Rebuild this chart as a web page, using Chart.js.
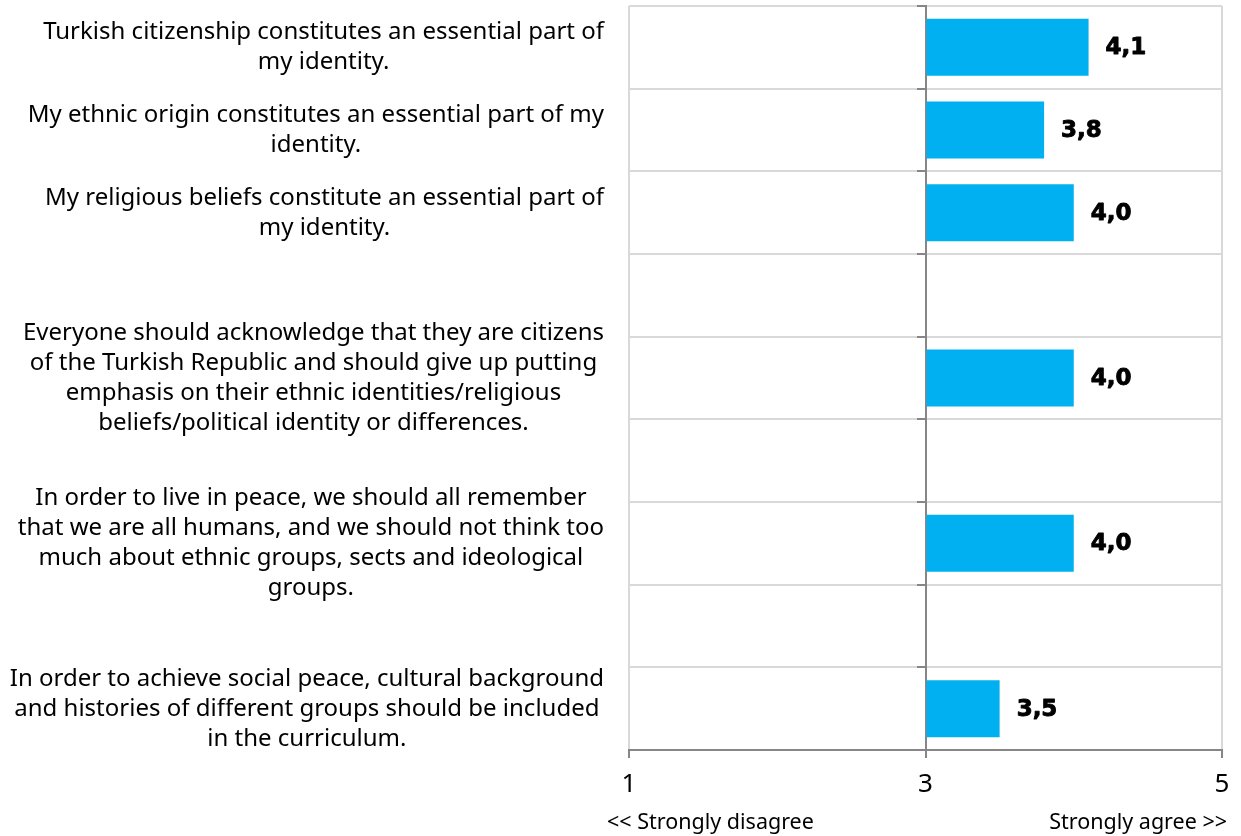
<!DOCTYPE html>
<html>
<head>
<meta charset="utf-8">
<script src="https://cdn.jsdelivr.net/npm/chart.js@4.4.1/dist/chart.umd.min.js"></script>
<style>
  html, body { margin: 0; padding: 0; background: #ffffff; }
  #wrap { width: 1241px; height: 836px; }
</style>
</head>
<body>
<div id="wrap"><canvas id="chart" width="1241" height="836"></canvas></div>
<script>
// Statements, one wrapped label per row; empty rows leave spacing between groups
const statements = [
  ["Turkish citizenship constitutes an essential part of", "my identity."],
  ["My ethnic origin constitutes an essential part of my", "identity."],
  ["My religious beliefs constitute an essential part of", "my identity."],
  [],
  ["Everyone should acknowledge that they are citizens", "of the Turkish Republic and should give up putting", "emphasis on their ethnic identities/religious", "beliefs/political identity or differences."],
  [],
  ["In order to live in peace, we should all remember", "that we are all humans, and we should not think too", "much about ethnic groups, sects and ideological", "groups."],
  [],
  ["In order to achieve social peace, cultural background", "and histories of different groups should be included", "in the curriculum."]
];

// Mean agreement score per row (1–5 scale); null for spacer rows
const meanScores = [4.1, 3.8, 4.0, null, 4.0, null, 4.0, null, 3.5];

// Scale end captions and value-axis ticks
const scaleCaptions = ["<< Strongly disagree", "Strongly agree >>"];
const scaleTicks = [1, 3, 5];
const scaleMidpoint = 3;

const LABEL_FONT = '"Noto Sans", "Liberation Sans", Arial, sans-serif';
const fmt = v => v.toFixed(1).replace('.', ',');

// Wrapped statements on the left and the captions under the value axis
const sideText = {
  id: 'sideText',
  afterDraw(chart) {
    const { ctx, chartArea, scales } = chart;
    const y = scales.y;
    ctx.save();
    ctx.fillStyle = '#000000';
    ctx.font = '24px ' + LABEL_FONT;
    ctx.textAlign = 'center';
    ctx.textBaseline = 'middle';
    const lineH = 30;
    const rightEdge = chartArea.left - 25;
    statements.forEach((lines, i) => {
      if (!lines.length) return;
      const widest = Math.max(...lines.map(l => ctx.measureText(l).width));
      const cx = rightEdge - widest / 2;
      const cy = y.getPixelForValue(i);
      lines.forEach((line, j) => {
        ctx.fillText(line, cx, cy + (j - (lines.length - 1) / 2) * lineH);
      });
    });
    ctx.font = '21.5px ' + LABEL_FONT;
    ctx.textBaseline = 'alphabetic';
    ctx.textAlign = 'left';
    ctx.fillText(scaleCaptions[0], chartArea.left - 22, 829);
    ctx.textAlign = 'right';
    ctx.fillText(scaleCaptions[1], chartArea.right + 5, 829);
    ctx.restore();
  }
};

// Value printed just past the end of each bar
const barValues = {
  id: 'barValues',
  afterDatasetsDraw(chart) {
    const { ctx } = chart;
    const meta = chart.getDatasetMeta(0);
    ctx.save();
    ctx.fillStyle = '#000000';
    ctx.strokeStyle = '#000000';
    ctx.lineWidth = 0.9;
    ctx.lineJoin = 'round';
    ctx.font = 'bold 23px "DejaVu Sans", sans-serif';
    ctx.textAlign = 'left';
    ctx.textBaseline = 'middle';
    meta.data.forEach((bar, i) => {
      const v = meanScores[i];
      if (v === null) return;
      ctx.fillText(fmt(v), bar.x + 17, bar.y + 1);
      ctx.strokeText(fmt(v), bar.x + 17, bar.y + 1);
    });
    ctx.restore();
  }
};

new Chart(document.getElementById('chart'), {
  type: 'bar',
  data: {
    labels: statements.map(l => l.join(' ')),
    datasets: [{
      data: meanScores,
      base: scaleMidpoint,
      backgroundColor: '#00B0F0',
      borderWidth: 0,
      categoryPercentage: 1,
      barPercentage: 0.69
    }]
  },
  options: {
    indexAxis: 'y',
    responsive: false,
    devicePixelRatio: 1,
    animation: false,
    layout: { padding: { left: 629, right: 19, top: 6, bottom: 0 } },
    plugins: {
      legend: { display: false },
      tooltip: { enabled: false }
    },
    scales: {
      x: {
        type: 'linear',
        min: 1,
        max: 5,
        afterBuildTicks: axis => { axis.ticks = scaleTicks.map(v => ({ value: v })); },
        afterFit: axis => { axis.height = 86; },
        grid: {
          color: c => (c.tick && c.tick.value === scaleMidpoint) ? '#868686' : '#d9d9d9',
          lineWidth: 2,
          drawTicks: true,
          tickLength: 8,
          tickColor: '#868686',
          tickWidth: 2
        },
        border: { display: true, color: '#868686', width: 2 },
        ticks: {
          color: '#000000',
          padding: 11,
          font: { family: LABEL_FONT, size: 26 }
        }
      },
      y: {
        type: 'category',
        position: { x: scaleMidpoint },
        offset: true,
        grid: {
          offset: true,
          color: '#d9d9d9',
          lineWidth: 2,
          drawTicks: true,
          tickLength: 8,
          tickColor: '#868686',
          tickWidth: 2
        },
        border: { display: true, color: '#868686', width: 2 },
        ticks: { display: false }
      }
    }
  },
  plugins: [barValues, sideText]
});
</script>
</body>
</html>
